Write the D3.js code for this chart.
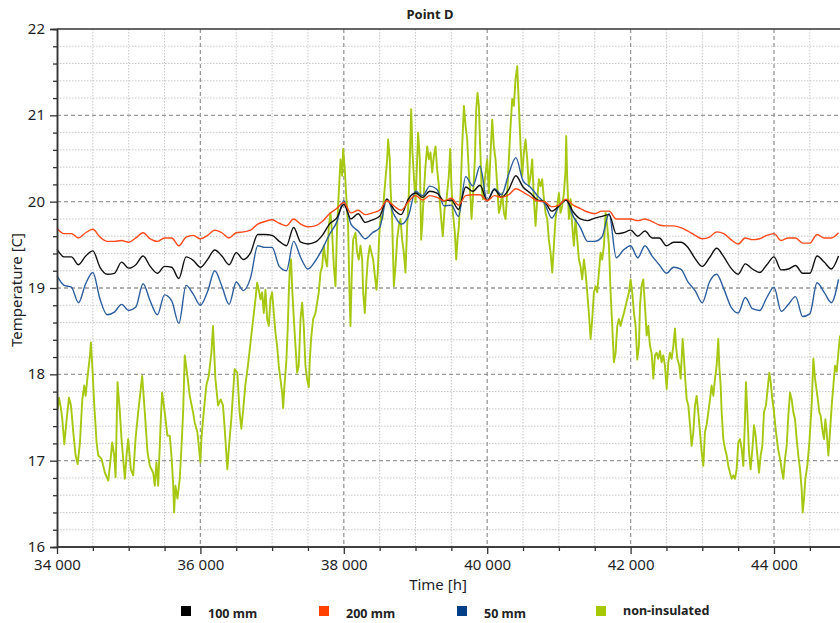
<!DOCTYPE html>
<html>
<head>
<meta charset="utf-8">
<script src="https://cdn.jsdelivr.net/npm/d3@7/dist/d3.min.js"></script>
<style>
  body { margin: 0; background: #fff; }
  text { font-family: "Noto Sans", "Open Sans", sans-serif; }
</style>
</head>
<body>
<svg id="chart" width="840" height="623"></svg>
<script>
// Point D temperature histories, 34 000 – 44 900 h, one reading every 100 h
const hours = d3.range(34000, 44901, 100);

const ins200 = [
  19.69,19.63,19.63,19.58,19.64,19.68,19.59,19.54,19.54,19.55,
  19.53,19.58,19.64,19.57,19.54,19.58,19.58,19.49,19.59,19.61,
  19.57,19.61,19.67,19.64,19.58,19.64,19.65,19.67,19.74,19.77,
  19.79,19.75,19.72,19.80,19.74,19.71,19.72,19.77,19.86,19.92,
  19.99,19.87,19.90,19.85,19.87,19.90,20.01,19.95,19.90,20.00,
  20.07,20.02,20.07,20.05,20.01,20.04,19.96,20.07,20.08,20.08,
  20.01,20.07,20.05,20.08,20.15,20.11,20.06,20.01,20.00,19.94,
  19.96,20.03,19.96,19.92,19.88,19.86,19.89,19.89,19.80,19.80,
  19.80,19.78,19.80,19.77,19.73,19.72,19.72,19.70,19.66,19.61,
  19.57,19.59,19.65,19.63,19.56,19.51,19.58,19.56,19.57,19.61,
  19.63,19.55,19.58,19.58,19.52,19.52,19.62,19.58,19.58,19.64
];

const ins100 = [
  19.45,19.36,19.36,19.27,19.37,19.43,19.24,19.16,19.17,19.30,
  19.23,19.27,19.37,19.25,19.17,19.25,19.24,19.11,19.36,19.32,
  19.24,19.33,19.44,19.37,19.27,19.41,19.33,19.41,19.62,19.62,
  19.61,19.54,19.49,19.70,19.53,19.51,19.53,19.61,19.74,19.81,
  19.97,19.80,19.86,19.76,19.79,19.83,20.03,19.91,19.85,20.03,
  20.10,20.05,20.12,20.10,20.01,20.02,19.91,20.17,20.12,20.19,
  20.01,20.14,20.05,20.14,20.30,20.17,20.10,20.02,20.00,19.89,
  19.95,20.02,19.88,19.80,19.78,19.81,19.83,19.85,19.63,19.64,
  19.67,19.60,19.66,19.58,19.58,19.49,19.53,19.53,19.47,19.34,
  19.25,19.35,19.46,19.36,19.23,19.16,19.28,19.22,19.18,19.27,
  19.36,19.21,19.22,19.26,19.17,19.17,19.37,19.30,19.22,19.37
];

const ins50 = [
  19.14,19.03,19.01,18.83,19.05,19.18,18.87,18.69,18.72,18.81,
  18.74,18.78,19.05,18.85,18.69,18.92,18.85,18.59,19.03,18.93,
  18.80,18.96,19.20,19.02,18.81,19.07,18.97,19.12,19.49,19.47,
  19.47,19.25,19.20,19.54,19.35,19.22,19.31,19.45,19.62,19.76,
  20.01,19.74,19.66,19.57,19.64,19.70,20.03,19.85,19.74,19.83,
  20.12,20.07,20.18,20.14,19.95,19.96,19.83,20.29,20.18,20.41,
  20.01,20.15,20.08,20.32,20.51,20.24,20.17,20.07,19.98,19.81,
  19.95,20.02,19.83,19.70,19.54,19.54,19.59,19.86,19.35,19.44,
  19.49,19.35,19.49,19.37,19.27,19.17,19.24,19.22,19.07,18.97,
  18.83,19.07,19.16,18.99,18.78,18.71,18.89,18.76,18.74,18.89,
  19.01,18.73,18.81,18.90,18.67,18.70,19.06,18.95,18.83,19.10
];

// Non-insulated wall: [hour, temperature], irregularly spaced readings
const nonInsulated = [
  [34009,17.60],[34028,17.73],[34056,17.60],[34074,17.48],[34102,17.19],[34135,17.48],[34167,17.73],[34195,17.64],
  [34227,17.33],[34260,17.06],[34288,16.96],[34320,17.21],[34353,17.71],[34380,17.87],[34399,17.75],[34427,17.98],
  [34459,18.21],[34473,18.37],[34492,18.10],[34520,17.64],[34552,17.21],[34575,17.06],[34622,17.02],[34668,16.86],
  [34715,16.77],[34738,16.94],[34770,17.21],[34798,17.06],[34817,16.81],[34844,17.91],[34877,17.56],[34900,17.25],
  [34947,16.79],[34970,17.06],[34993,17.25],[35030,16.90],[35063,16.83],[35095,17.25],[35132,17.56],[35188,17.98],
  [35225,17.56],[35262,17.10],[35295,16.94],[35341,16.86],[35364,16.71],[35387,16.98],[35411,16.71],[35448,17.48],
  [35466,17.79],[35503,17.56],[35540,17.29],[35573,17.29],[35596,17.06],[35619,16.75],[35633,16.40],[35652,16.71],
  [35680,16.56],[35712,16.79],[35735,17.14],[35759,17.56],[35782,18.22],[35819,17.98],[35851,17.75],[35898,17.56],
  [35921,17.44],[35958,17.33],[35977,17.17],[36000,16.98],[36014,17.25],[36046,17.56],[36083,17.87],[36116,17.98],
  [36153,18.25],[36176,18.56],[36209,17.95],[36246,17.64],[36283,17.71],[36315,17.64],[36339,17.37],[36376,16.90],
  [36399,17.17],[36431,17.48],[36478,18.06],[36515,18.02],[36547,17.56],[36571,17.37],[36598,17.60],[36626,17.87],
  [36663,18.10],[36710,18.45],[36768,18.87],[36791,19.06],[36814,18.98],[36838,18.87],[36861,18.95],[36884,18.71],
  [36907,18.98],[36931,18.64],[36954,18.56],[36977,18.87],[37000,18.95],[37024,18.71],[37047,18.48],[37070,18.33],
  [37093,18.10],[37117,17.94],[37140,17.79],[37154,17.61],[37172,17.86],[37200,18.17],[37219,18.56],[37233,18.95],
  [37247,19.22],[37265,19.33],[37279,19.02],[37303,18.64],[37326,18.33],[37349,18.02],[37372,18.10],[37396,18.64],
  [37419,18.83],[37442,18.56],[37465,18.10],[37489,17.94],[37512,17.85],[37526,18.17],[37544,18.41],[37572,18.64],
  [37605,18.71],[37651,18.95],[37675,19.18],[37698,19.25],[37721,19.49],[37744,19.33],[37768,19.25],[37791,19.72],
  [37814,19.87],[37837,19.64],[37861,19.25],[37884,19.02],[37907,19.72],[37930,20.10],[37954,20.49],[37977,20.30],
  [37991,20.61],[38014,20.37],[38037,20.03],[38060,19.72],[38079,18.95],[38093,18.56],[38112,19.18],[38130,19.56],
  [38163,19.64],[38186,19.41],[38209,19.33],[38233,19.49],[38256,19.33],[38270,18.95],[38293,18.71],[38316,19.10],
  [38335,19.33],[38363,19.49],[38386,19.41],[38409,19.33],[38428,19.18],[38456,18.98],[38474,19.18],[38488,19.49],
  [38502,19.72],[38521,19.83],[38539,19.80],[38558,20.03],[38581,20.26],[38605,20.49],[38618,20.72],[38642,20.49],
  [38651,20.18],[38674,19.80],[38698,19.02],[38721,19.25],[38744,19.56],[38767,19.72],[38791,19.80],[38814,19.56],
  [38837,19.41],[38860,19.18],[38884,19.72],[38907,20.10],[38921,20.49],[38940,21.07],[38958,20.57],[38977,20.30],
  [39000,19.99],[39023,20.49],[39037,20.80],[39060,20.49],[39079,19.56],[39093,19.72],[39116,20.10],[39139,20.41],
  [39163,20.64],[39186,20.49],[39209,20.57],[39233,20.34],[39256,20.53],[39279,20.64],[39302,20.37],[39326,20.18],
  [39340,19.99],[39358,19.80],[39381,19.60],[39405,19.91],[39433,20.03],[39465,20.30],[39484,20.61],[39502,20.18],
  [39521,19.87],[39549,19.64],[39568,19.33],[39586,19.56],[39605,19.72],[39628,20.10],[39651,20.64],[39675,21.11],
  [39698,20.88],[39721,20.72],[39744,20.34],[39768,20.03],[39781,19.80],[39800,20.03],[39828,20.49],[39847,21.07],
  [39865,21.26],[39884,21.11],[39902,20.64],[39921,20.18],[39940,20.03],[39967,20.26],[40000,20.49],[40023,20.10],
  [40047,20.57],[40070,20.95],[40093,20.64],[40116,20.49],[40140,20.18],[40163,19.87],[40186,19.95],[40209,20.10],
  [40233,19.87],[40256,19.80],[40279,20.10],[40302,20.49],[40326,20.88],[40349,21.19],[40372,21.11],[40395,21.42],
  [40419,21.57],[40442,21.11],[40465,20.65],[40488,20.30],[40512,20.57],[40535,20.72],[40558,20.49],[40581,20.18],
  [40605,20.30],[40628,20.49],[40651,20.03],[40674,19.72],[40698,20.03],[40721,20.26],[40744,20.18],[40767,20.26],
  [40791,20.03],[40814,19.87],[40837,19.80],[40860,19.56],[40884,19.41],[40907,19.18],[40930,19.49],[40953,19.80],
  [40977,19.95],[41000,20.10],[41023,19.87],[41046,19.95],[41070,20.10],[41093,20.37],[41102,20.76],[41116,20.26],
  [41140,19.80],[41163,20.03],[41186,19.72],[41209,19.49],[41232,19.80],[41256,19.56],[41279,19.33],[41302,19.25],
  [41325,19.10],[41349,19.33],[41372,19.18],[41395,18.95],[41418,18.71],[41442,18.41],[41465,18.64],[41488,18.95],
  [41511,19.02],[41535,18.95],[41558,19.18],[41581,19.41],[41604,19.33],[41628,19.49],[41651,19.87],[41674,19.72],
  [41698,19.49],[41721,18.95],[41744,18.56],[41767,18.14],[41791,18.25],[41814,18.56],[41837,18.64],[41860,18.56],
  [41884,18.64],[41907,18.71],[41930,18.79],[41953,18.87],[41977,18.95],[42000,19.10],[42023,18.95],[42047,18.71],
  [42070,18.56],[42093,18.17],[42116,18.33],[42131,18.80],[42154,19.03],[42177,19.10],[42200,18.80],[42224,18.45],
  [42247,18.56],[42270,18.33],[42293,18.25],[42317,17.95],[42340,18.22],[42363,18.25],[42386,18.18],[42410,18.27],
  [42433,18.14],[42456,18.22],[42479,18.10],[42503,17.83],[42526,18.14],[42549,18.25],[42572,18.18],[42596,18.33],
  [42619,18.53],[42633,18.33],[42652,18.18],[42679,18.10],[42698,17.95],[42726,18.41],[42745,18.18],[42768,17.87],
  [42782,17.71],[42805,17.64],[42828,17.42],[42851,17.17],[42875,17.33],[42898,17.64],[42921,17.75],[42944,17.56],
  [42968,17.33],[42991,17.10],[43014,16.94],[43037,17.33],[43061,17.42],[43084,17.56],[43107,17.71],[43130,17.87],
  [43154,17.75],[43177,17.95],[43200,18.10],[43223,18.41],[43237,18.10],[43256,17.87],[43270,17.56],[43293,17.25],
  [43316,17.14],[43340,17.06],[43363,16.94],[43386,16.86],[43409,16.79],[43433,16.83],[43456,16.79],[43479,16.90],
  [43502,17.21],[43526,17.25],[43549,17.14],[43572,16.94],[43595,17.48],[43609,17.91],[43628,17.56],[43651,17.10],
  [43674,16.90],[43702,17.17],[43721,17.41],[43744,17.29],[43768,17.06],[43791,16.86],[43814,17.06],[43837,17.17],
  [43860,17.56],[43888,17.64],[43916,17.87],[43935,18.02],[43954,17.91],[43977,17.71],[44000,17.56],[44028,17.33],
  [44056,17.14],[44084,17.02],[44107,16.90],[44130,16.79],[44153,17.02],[44177,17.17],[44200,17.52],[44223,17.79],
  [44246,17.71],[44270,17.56],[44293,17.48],[44316,17.25],[44339,17.06],[44363,16.90],[44386,16.67],[44400,16.40],
  [44419,16.56],[44437,16.79],[44465,16.94],[44493,17.21],[44525,17.64],[44549,18.18],[44572,17.95],[44605,17.75],
  [44633,17.56],[44651,17.52],[44679,17.33],[44698,17.25],[44716,17.48],[44735,17.33],[44758,17.06],[44781,17.33],
  [44805,17.64],[44828,17.87],[44851,18.10],[44875,18.03],[44898,18.25],[44921,18.45]
];

const seriesNames = ["100 mm", "200 mm", "50 mm", "non-insulated"];
const seriesColors = ["#111111", "#ff4a1a", "#2a5d9e", "#a6c812"];
const legendColors = ["#000000", "#ff4000", "#003f87", "#a6c800"];

const xMajorTicks = [34000, 36000, 38000, 40000, 42000, 44000];
const yMajorTicks = [16, 17, 18, 19, 20, 21, 22];

// ---- layout ----
const W = 840, H = 623;
const svg = d3.select("#chart");
svg.append("rect").attr("width", W).attr("height", H).attr("fill", "#fff");

const x = d3.scaleLinear().domain([34000, 45000]).range([57, 845.7]);
const y = d3.scaleLinear().domain([16, 22]).range([547, 29]);
const plotRight = W;

const fmt = d3.formatLocale({ decimal: ".", thousands: " ", grouping: [3], currency: ["", ""] }).format(",");

const xMinor = d3.range(34000, 45001, 500).filter(v => v % 2000 !== 0);
const yMinor = d3.range(0, 31).map(i => +(16 + i * 0.2).toFixed(1)).filter(v => !Number.isInteger(v));

const grid = svg.append("g");
grid.selectAll("line.vminor").data(xMinor).join("line")
  .attr("x1", d => x(d)).attr("x2", d => x(d)).attr("y1", y(22)).attr("y2", y(16))
  .attr("stroke", "#c8c8c8").attr("stroke-width", 1).attr("stroke-dasharray", "1.5,1.5");
grid.selectAll("line.hminor").data(yMinor).join("line")
  .attr("x1", x(34000)).attr("x2", plotRight).attr("y1", d => y(d)).attr("y2", d => y(d))
  .attr("stroke", "#c8c8c8").attr("stroke-width", 1).attr("stroke-dasharray", "1.5,1.5");
grid.selectAll("line.vmajor").data(xMajorTicks.filter(v => v > 34000)).join("line")
  .attr("x1", d => x(d)).attr("x2", d => x(d)).attr("y1", y(22)).attr("y2", y(16))
  .attr("stroke", "#999").attr("stroke-width", 1.3).attr("stroke-dasharray", "4,3");
grid.selectAll("line.hmajor").data(yMajorTicks.filter(v => v > 16 && v < 22)).join("line")
  .attr("x1", x(34000)).attr("x2", plotRight).attr("y1", d => y(d)).attr("y2", d => y(d))
  .attr("stroke", "#999").attr("stroke-width", 1.3).attr("stroke-dasharray", "4,3");

// ---- series ----
const rawLine = d3.line().x(d => x(d[0])).y(d => y(d[1]));
const smoothLine = d3.line().x(d => x(d[0])).y(d => y(d[1])).curve(d3.curveMonotoneX);
const lines = svg.append("g");
lines.append("path").datum(nonInsulated)
  .attr("d", rawLine).attr("fill", "none").attr("stroke", seriesColors[3]).attr("stroke-width", 1.9)
  .attr("stroke-linejoin", "round");
[[ins50, 2], [ins100, 0], [ins200, 1]].forEach(([vals, i]) => {
  lines.append("path").datum(hours.map((h, k) => [h, vals[k]]))
    .attr("d", smoothLine).attr("fill", "none").attr("stroke", seriesColors[i]).attr("stroke-width", 1.4)
    .attr("stroke-linejoin", "round");
});

// ---- axes ----
const axisColor = "#333";
const yAxisMinor = svg.append("g").attr("transform", `translate(${x(34000)},0)`)
  .call(d3.axisLeft(y).tickValues(yMinor).tickSize(4).tickFormat(""));
const yAxis = svg.append("g").attr("transform", `translate(${x(34000)},0)`)
  .call(d3.axisLeft(y).tickValues(yMajorTicks).tickSize(7).tickPadding(5).tickFormat(d3.format("d")));
const xAxisMinor = svg.append("g").attr("transform", `translate(0,${y(16)})`)
  .call(d3.axisBottom(x).tickValues(xMinor).tickSize(4).tickFormat(""));
const xAxis = svg.append("g").attr("transform", `translate(0,${y(16)})`)
  .call(d3.axisBottom(x).tickValues(xMajorTicks).tickSize(7).tickPadding(5).tickFormat(fmt));

[yAxisMinor, yAxis, xAxisMinor, xAxis].forEach(g => {
  g.selectAll("path.domain").attr("stroke", axisColor).attr("stroke-width", 1.5);
  g.selectAll(".tick line").attr("stroke", axisColor).attr("stroke-width", 1.3);
  g.selectAll("text").attr("font-size", 15).attr("fill", "#1e1e28")
    .attr("font-family", "'Noto Sans', sans-serif");
});
yAxis.selectAll(".tick text").attr("dy", "0.30em");
xAxisMinor.select("path.domain").attr("d", `M${x(34000)},0H${plotRight}`);
xAxis.select("path.domain").attr("d", `M${x(34000)},0H${plotRight}`);

// top frame line
svg.append("line").attr("x1", x(34000)).attr("x2", plotRight).attr("y1", y(22)).attr("y2", y(22))
  .attr("stroke", axisColor).attr("stroke-width", 1.5);

// ---- titles ----
svg.append("text").attr("x", 430).attr("y", 19).attr("text-anchor", "middle")
  .attr("font-size", 13).attr("font-weight", "bold").attr("fill", "#222").text("Point D");
svg.append("text").attr("x", 438).attr("y", 590).attr("text-anchor", "middle")
  .attr("font-size", 15).attr("fill", "#1e1e28").text("Time [h]");
svg.append("text").attr("transform", "translate(22,290) rotate(-90)").attr("text-anchor", "middle")
  .attr("font-size", 15).attr("fill", "#1e1e28").text("Temperature [C]");

// ---- legend ----
const legendX = [181, 319, 457, 596];
const legendDy = [0, 0, 0, -3];
const legend = svg.append("g");
seriesNames.forEach((name, i) => {
  legend.append("rect").attr("x", legendX[i]).attr("y", 606).attr("width", 10).attr("height", 10)
    .attr("fill", legendColors[i]);
  legend.append("text").attr("x", legendX[i] + 27).attr("y", 618 + legendDy[i])
    .attr("font-size", 12.5).attr("font-weight", "bold").attr("fill", "#222").text(name);
});
</script>
</body>
</html>
